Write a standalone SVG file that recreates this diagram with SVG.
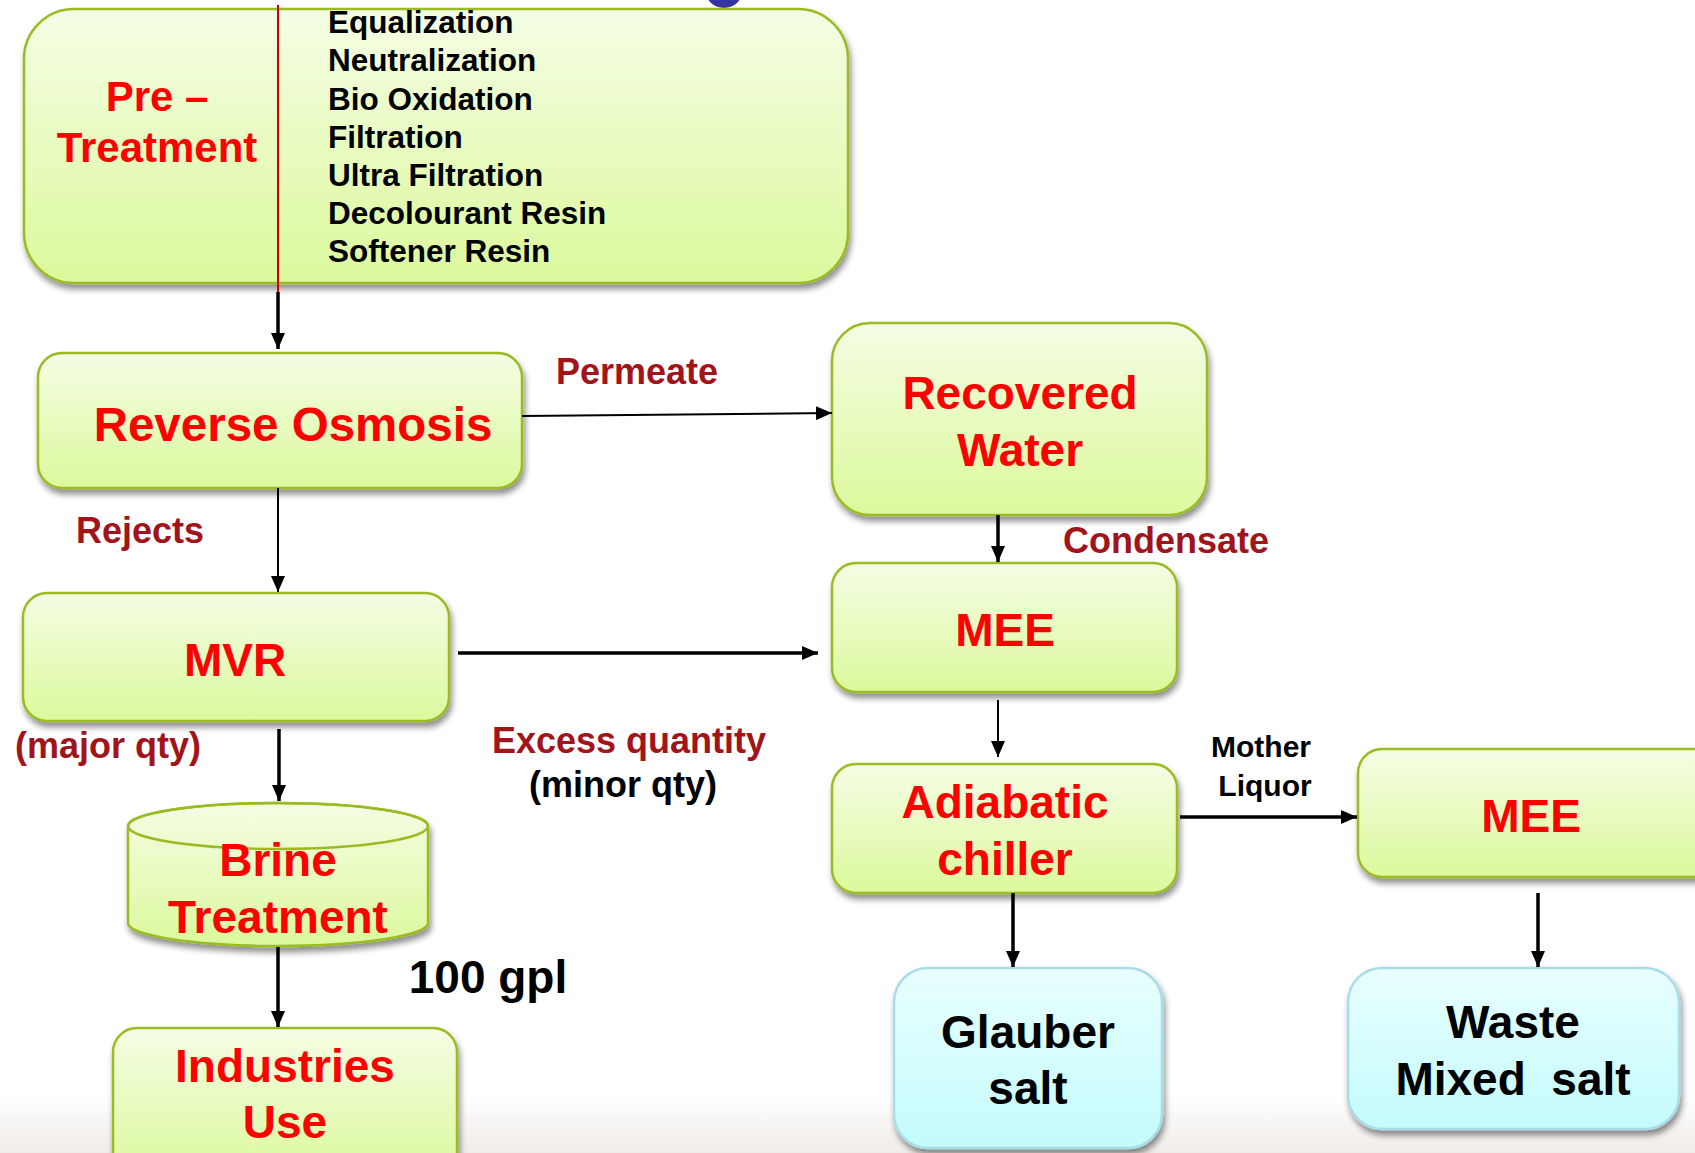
<svg xmlns="http://www.w3.org/2000/svg" width="1695" height="1153" viewBox="0 0 1695 1153">
<defs>
  <linearGradient id="gGreen" x1="0" y1="0" x2="0" y2="1">
    <stop offset="0" stop-color="#F4FDE4"/>
    <stop offset="1" stop-color="#DCF99C"/>
  </linearGradient>
  <linearGradient id="gCyan" x1="0" y1="0" x2="0" y2="1">
    <stop offset="0" stop-color="#E8FEFE"/>
    <stop offset="1" stop-color="#C4FBFC"/>
  </linearGradient>
  <linearGradient id="gFoot" x1="0" y1="0" x2="0" y2="1">
    <stop offset="0" stop-color="#FFFFFF"/>
    <stop offset="1" stop-color="#EFEBE8"/>
  </linearGradient>
  <filter id="sh" x="-10%" y="-10%" width="120%" height="130%">
    <feGaussianBlur in="SourceAlpha" stdDeviation="3"/>
    <feOffset dx="2" dy="5" result="b"/>
    <feComponentTransfer><feFuncA type="linear" slope="0.45"/></feComponentTransfer>
    <feMerge><feMergeNode/><feMergeNode in="SourceGraphic"/></feMerge>
  </filter>
  <marker id="ahs" viewBox="0 0 10 10" refX="10" refY="5" markerWidth="16" markerHeight="14" orient="auto" markerUnits="userSpaceOnUse" preserveAspectRatio="none">
    <path d="M0,0 L10,5 L0,10 z" fill="#000"/>
  </marker>
  <style>
    .gbox { fill: url(#gGreen); stroke: #9BBB22; stroke-width: 2.5; filter: url(#sh); }
    .cbox { fill: url(#gCyan); stroke: #A8DCE6; stroke-width: 2.5; filter: url(#sh); }
    .red { font-family: "Liberation Sans", Arial, sans-serif; font-weight: bold; fill: #FF0000; font-size: 46px; text-anchor: middle; }
    .red.pt { font-size: 42px; }
    .red.ro { font-size: 47.5px; }
    .blk { font-family: "Liberation Sans", Arial, sans-serif; font-weight: bold; fill: #000; font-size: 46px; text-anchor: middle; }
    .lst { font-family: "Liberation Sans", Arial, sans-serif; font-weight: bold; fill: #000; font-size: 31.5px; }
    .dr { font-family: "Liberation Sans", Arial, sans-serif; font-weight: bold; fill: #A0141A; font-size: 36px; text-anchor: middle; }
    .lbl { font-family: "Liberation Sans", Arial, sans-serif; font-weight: bold; fill: #000; text-anchor: middle; }
    .c1 { stroke: #000; stroke-width: 2; fill: none; }
    .c3 { stroke: #000; stroke-width: 3.5; fill: none; }
  </style>
</defs>
<rect x="0" y="0" width="1695" height="1153" fill="#FFFFFF"/>
<rect x="0" y="1095" width="1695" height="58" fill="url(#gFoot)"/>
<circle cx="724" cy="-11" r="19" fill="#3434A0"/>

<g id="pretreatment">
  <rect class="gbox" x="24" y="9" width="824" height="274" rx="50" ry="50"/>
  <text class="red pt" x="157" y="111">Pre –</text>
  <text class="red pt" x="157" y="162">Treatment</text>
  <g class="lst">
    <text x="328" y="33">Equalization</text>
    <text x="328" y="71">Neutralization</text>
    <text x="328" y="110">Bio Oxidation</text>
    <text x="328" y="148">Filtration</text>
    <text x="328" y="186">Ultra Filtration</text>
    <text x="328" y="224">Decolourant Resin</text>
    <text x="328" y="262">Softener Resin</text>
  </g>
</g>

<g id="ro">
  <rect class="gbox" x="38" y="353" width="484" height="135" rx="24" ry="24"/>
  <text class="red ro" x="293" y="441">Reverse Osmosis</text>
</g>

<g id="recovered">
  <rect class="gbox" x="832" y="323" width="375" height="192" rx="38" ry="38"/>
  <text class="red" x="1020" y="409">Recovered</text>
  <text class="red" x="1020" y="466">Water</text>
</g>

<g id="mvr">
  <rect class="gbox" x="23" y="593" width="426" height="128" rx="24" ry="24"/>
  <text class="red" x="235" y="676">MVR</text>
</g>

<g id="mee1">
  <rect class="gbox" x="832" y="563" width="345" height="129" rx="24" ry="24"/>
  <text class="red" x="1005" y="646">MEE</text>
</g>

<g id="brine">
  <path class="gbox" d="M128,826 A150,23 0 0 1 428,826 L428,923 A150,23 0 0 1 128,923 Z"/>
  <ellipse cx="278" cy="826" rx="150" ry="23" fill="none" stroke="#9BBB22" stroke-width="2.5"/>
  <text class="red" x="278" y="876">Brine</text>
  <text class="red" x="278" y="933">Treatment</text>
</g>

<g id="industries">
  <rect class="gbox" x="113" y="1028" width="344" height="150" rx="24" ry="24"/>
  <text class="red" x="285" y="1082">Industries</text>
  <text class="red" x="285" y="1138">Use</text>
</g>

<g id="adiabatic">
  <rect class="gbox" x="832" y="764" width="345" height="129" rx="24" ry="24"/>
  <text class="red" x="1005" y="818">Adiabatic</text>
  <text class="red" x="1005" y="875">chiller</text>
</g>

<g id="mee2">
  <rect class="gbox" x="1358" y="749" width="360" height="128" rx="24" ry="24"/>
  <text class="red" x="1531" y="832">MEE</text>
</g>

<g id="glauber">
  <rect class="cbox" x="894" y="968" width="268" height="180" rx="34" ry="34"/>
  <text class="blk" x="1028" y="1048">Glauber</text>
  <text class="blk" x="1028" y="1104">salt</text>
</g>

<g id="waste">
  <rect class="cbox" x="1348" y="968" width="331" height="161" rx="34" ry="34"/>
  <text class="blk" x="1513" y="1038">Waste</text>
  <text class="blk" x="1513" y="1095" xml:space="preserve">Mixed  salt</text>
</g>

<g id="connectors">
  <line x1="278" y1="5" x2="278" y2="292" stroke="#D00000" stroke-width="2"/>
  <line class="c3" x1="278" y1="292" x2="278" y2="349" marker-end="url(#ahs)"/>
  <line class="c1" x1="522" y1="416" x2="832" y2="413" marker-end="url(#ahs)"/>
  <line class="c1" x1="278" y1="488" x2="278" y2="592" marker-end="url(#ahs)"/>
  <line class="c3" x1="998" y1="515" x2="998" y2="562" marker-end="url(#ahs)"/>
  <line class="c3" x1="458" y1="653" x2="818" y2="653" marker-end="url(#ahs)"/>
  <line class="c3" x1="279" y1="729" x2="279" y2="801" marker-end="url(#ahs)"/>
  <line class="c3" x1="278" y1="947" x2="278" y2="1027" marker-end="url(#ahs)"/>
  <line class="c1" x1="998" y1="700" x2="998" y2="757" marker-end="url(#ahs)"/>
  <line class="c3" x1="1180" y1="817" x2="1357" y2="817" marker-end="url(#ahs)"/>
  <line class="c3" x1="1013" y1="893" x2="1013" y2="967" marker-end="url(#ahs)"/>
  <line class="c3" x1="1538" y1="893" x2="1538" y2="967" marker-end="url(#ahs)"/>
</g>

<g id="labels">
  <text class="dr" x="637" y="384">Permeate</text>
  <text class="dr" x="140" y="543">Rejects</text>
  <text class="dr" x="1166" y="553">Condensate</text>
  <text class="dr" x="108" y="758">(major qty)</text>
  <text class="dr" x="629" y="753">Excess quantity</text>
  <text class="lbl" x="623" y="797" font-size="36">(minor qty)</text>
  <text class="lbl" x="488" y="993" font-size="46">100 gpl</text>
  <text class="lbl" x="1261" y="757" font-size="30">Mother</text>
  <text class="lbl" x="1265" y="796" font-size="30">Liquor</text>
</g>
</svg>
